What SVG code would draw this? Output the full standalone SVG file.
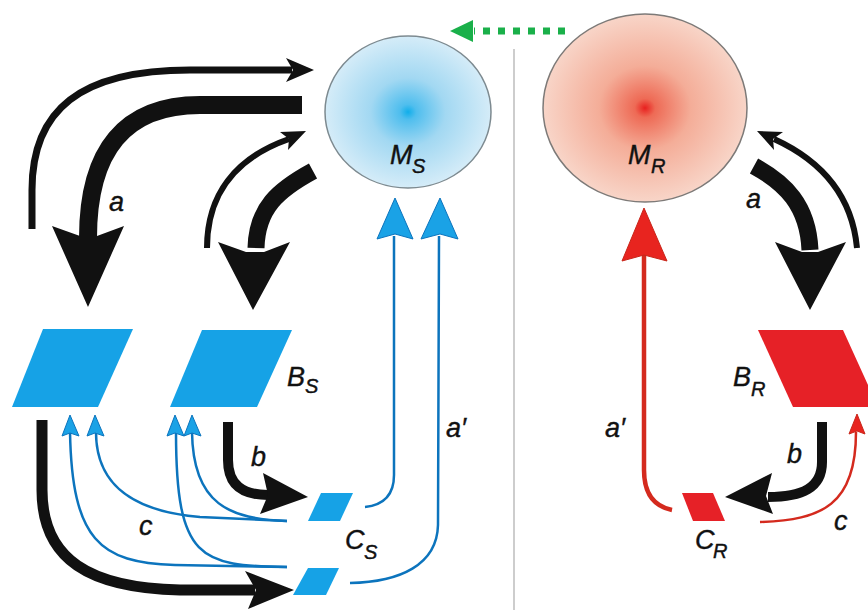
<svg xmlns="http://www.w3.org/2000/svg" width="868" height="610" viewBox="0 0 868 610">
<style>
.lbl{font-family:"Liberation Sans",Arial,sans-serif;font-style:italic;font-size:27px;fill:#111;stroke:#111;stroke-width:0.4}
.sub{font-size:20px}
.blk{fill:none;stroke:#111;stroke-linecap:butt}
.ah{fill:#111}
.bl{fill:none;stroke:#0c74bd;stroke-width:2.5}
.blh{fill:#1aa2e6;stroke:#0c74bd;stroke-width:1}
.bpar{fill:#16a2e6}
.rpar{fill:#e62127}
.rl{fill:none;stroke:#d42a1e}
.rlh{fill:#e8241f;stroke:#c8261a;stroke-width:1}
</style>
<defs>
<radialGradient id="gS" cx="0.5" cy="0.5" r="0.5">
<stop offset="0" stop-color="#10aeea"/>
<stop offset="0.1" stop-color="#4fbeee"/>
<stop offset="0.45" stop-color="#a2d8f2"/>
<stop offset="1" stop-color="#d5ecf8"/>
</radialGradient>
<radialGradient id="gR" cx="0.5" cy="0.5" r="0.5">
<stop offset="0" stop-color="#e8201e"/>
<stop offset="0.1" stop-color="#ee6a55"/>
<stop offset="0.45" stop-color="#f4ad98"/>
<stop offset="1" stop-color="#f8d5c8"/>
</radialGradient>
</defs>
<rect width="868" height="610" fill="#fff"/>
<line x1="514" y1="49" x2="514" y2="610" stroke="#bdbdbd" stroke-width="1.5"/>

<g id="M_S">
<ellipse cx="408" cy="112" rx="83" ry="76" fill="url(#gS)" stroke="#7d8a90" stroke-width="1.5"/>
<text class="lbl" x="390" y="164">M</text><text class="lbl sub" x="412" y="173">S</text>
</g>
<g id="M_R">
<ellipse cx="645" cy="108" rx="102" ry="94" fill="url(#gR)" stroke="#7d7a78" stroke-width="1.5"/>
<text class="lbl" x="628" y="164">M</text><text class="lbl sub" x="651" y="173">R</text>
</g>
<g id="B_S1"><polygon class="bpar" points="43,329 133,329 98,407 12,407"/></g>
<g id="B_S">
<polygon class="bpar" points="202,330 292,330 257,407 170,407"/>
<text class="lbl" x="287" y="386">B</text><text class="lbl sub" x="305" y="393">S</text>
</g>
<g id="C_S1"><polygon class="bpar" points="321,493 353,493 340,521 308,521"/></g>
<g id="C_S2"><polygon class="bpar" points="308,568 339,568 326,595 293,595"/>
<text class="lbl" x="345" y="549">C</text><text class="lbl sub" x="364" y="559">S</text>
</g>
<g id="B_R">
<polygon class="rpar" points="758,330 843,330 878,407 793,407"/>
<text class="lbl" x="733" y="386">B</text><text class="lbl sub" x="751" y="396">R</text>
</g>
<g id="C_R">
<polygon class="rpar" points="682,493 713,493 725,521 693,521"/>
<text class="lbl" x="695" y="549">C</text><text class="lbl sub" x="713" y="558">R</text>
</g>

<g id="connectors">
<line x1="565" y1="31" x2="474" y2="31" stroke="#1ab04a" stroke-width="7" stroke-dasharray="7,8"/>
<polygon points="450,31 473,20 473,42" fill="#1ab04a"/>

<path class="blk" stroke-width="7" d="M32,229 L32,190 C32,110 80,70 190,70 L292,70"/>
<polygon class="ah" points="286,58 314,70 286,82 293,70"/>
<path class="blk" stroke-width="18" d="M302,105 L200,105 C125,105 88,150 88,238"/>
<polygon class="ah" points="52,226 80,236 97,236 124,226 88,307"/>
<text class="lbl" x="109" y="211">a</text>

<path class="blk" stroke-width="6" d="M207,248 C207,195 235,158 289,139"/>
<polygon class="ah" points="306,131 280,132 289,139 288,150"/>
<path class="blk" stroke-width="17" d="M313,171 C278,190 257,208 256,248"/>
<polygon class="ah" points="218,242 246,252 264,252 290,242 253,310"/>

<path class="bl" d="M365,507 C384,505 394,495 394,475 L394,236"/>
<polygon class="blh" points="377,239 395,198 413,239 395,234"/>
<path class="bl" d="M350,583 C400,582 437,565 438,525 L439,236"/>
<polygon class="blh" points="421,239 440,198 458,239 440,234"/>
<text class="lbl" x="446" y="437">a′</text>

<path class="bl" d="M287,521 L200,517 C140,512 96,490 96,432"/>
<path class="bl" d="M287,521 C230,519 193,505 192,432"/>
<path class="bl" d="M287,567 L175,565 C100,563 72,540 70,432"/>
<path class="bl" d="M287,567 C200,566 176,560 176,432"/>
<polygon class="blh" points="62,436 70,415 79,436 70,433"/>
<polygon class="blh" points="87,436 95,415 104,436 95,433"/>
<polygon class="blh" points="167,436 175,415 184,436 175,433"/>
<polygon class="blh" points="184,436 192,415 201,436 192,433"/>
<text class="lbl" x="139" y="535">c</text>

<path class="blk" stroke-width="10" d="M228,422 L228,460 C228,485 243,495 268,495"/>
<polygon class="ah" points="263,473 308,497 260,514 268,495"/>
<text class="lbl" x="251" y="466">b</text>

<path class="blk" stroke-width="11" d="M42,420 L42,490 C42,560 90,588 180,590 L255,590"/>
<polygon class="ah" points="245,571 294,590 248,609 256,590"/>

<path class="blk" stroke-width="17" d="M754,166 C785,183 808,205 810,250"/>
<polygon class="ah" points="775,242 802,252 818,252 846,242 810,310"/>
<path class="blk" stroke-width="6" d="M857,248 C852,195 820,160 774,139"/>
<polygon class="ah" points="757,131 783,132 773,139 774,150"/>
<text class="lbl" x="746" y="208">a</text>

<path class="rl" stroke-width="4.5" d="M672,510 C652,506 644,492 644,470 L644,254"/>
<polygon class="rlh" points="622,261 644,208 667,261 644,255"/>
<text class="lbl" x="605" y="437">a′</text>

<path class="rl" stroke-width="2.5" d="M760,522 C822,520 856,505 856,432"/>
<polygon class="rlh" points="849,434 857,414 865,434 857,431"/>
<text class="lbl" x="834" y="530">c</text>

<path class="blk" stroke-width="10" d="M822,422 L822,462 C822,488 802,497 768,497"/>
<polygon class="ah" points="772,473 725,497 773,514 766,496"/>
<text class="lbl" x="787" y="463">b</text>
</g>
</svg>
